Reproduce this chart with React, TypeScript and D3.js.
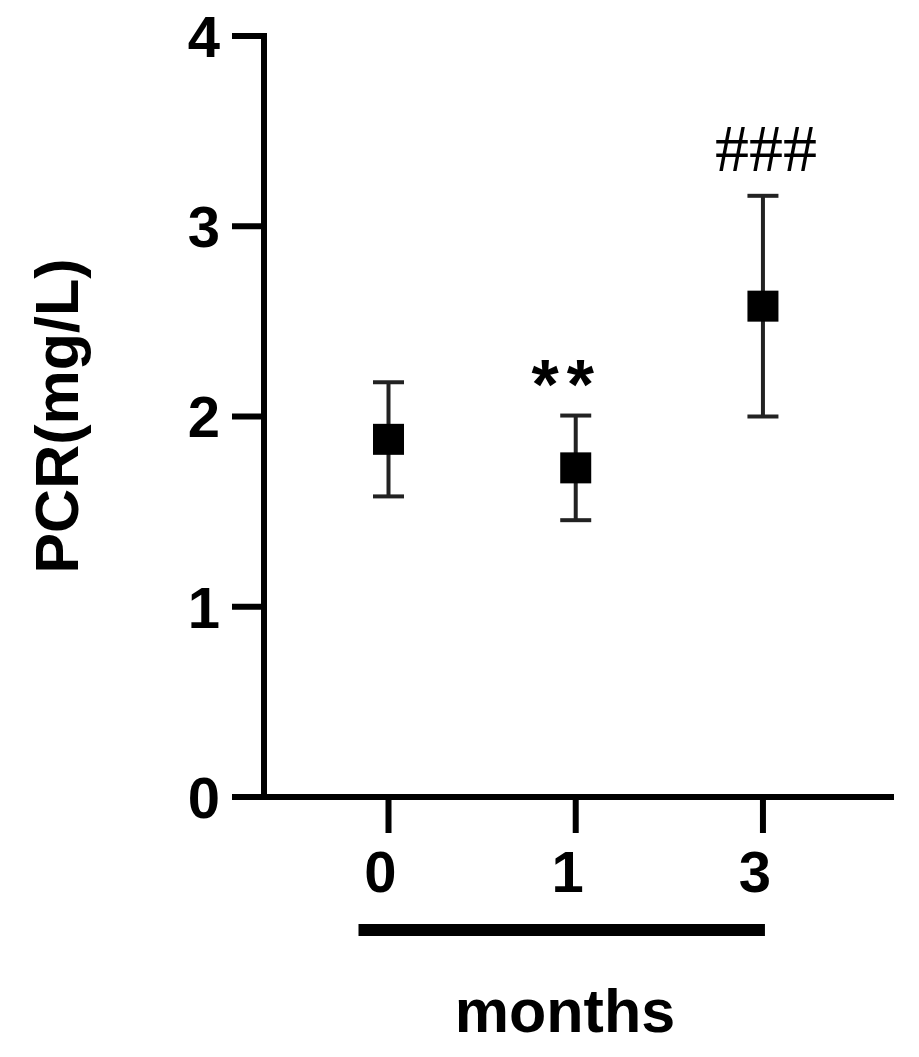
import React from "react";
import * as d3 from "d3";

const categories = ["0", "1", "3"];
const means = [1.88, 1.73, 2.58];
const errors = [0.3, 0.275, 0.58];
const yTicks = [0, 1, 2, 3, 4];
const annotations = ["", "**", "###"];
const yTitle = "PCR(mg/L)";
const xTitle = "months";

const W = 919;
const H = 1057;

export default function App() {
  const y = d3.scaleLinear().domain([0, 4]).range([797, 36]);
  const xi = d3.scaleLinear().domain([-0.665, 2.7]).range([264, 894]);
  const x = (c: string) => xi(categories.indexOf(c));
  const axisX = xi.range()[0];
  const axisW = 6;
  const sans = "'Liberation Sans', Arial, sans-serif";
  const serif = "'Liberation Serif', 'Times New Roman', serif";
  const sq = 31;
  const cap = 31;

  return (
    <svg width={W} height={H} style={{ position: "absolute", left: 0, top: 0, background: "#fff" }}>
      {/* y axis */}
      <line x1={axisX} x2={axisX} y1={y(4) - axisW / 2} y2={y(0)} stroke="#000" strokeWidth={axisW} />
      {yTicks.map((t) => (
        <g key={t}>
          <line x1={232} x2={axisX} y1={y(t)} y2={y(t)} stroke="#000" strokeWidth={axisW} />
          <text
            x={220}
            y={y(t)}
            dy="0.36em"
            textAnchor="end"
            fontFamily={sans}
            fontWeight="bold"
            fontSize={58}
            fill="#000"
          >
            {t}
          </text>
        </g>
      ))}
      {/* x axis */}
      <line x1={232} x2={xi.range()[1]} y1={y(0)} y2={y(0)} stroke="#000" strokeWidth={axisW} />
      {categories.map((c) => (
        <g key={c}>
          <line x1={x(c)} x2={x(c)} y1={y(0)} y2={y(0) + 36} stroke="#000" strokeWidth={axisW} />
          <text
            x={x(c) - 8}
            y={892}
            textAnchor="middle"
            fontFamily={sans}
            fontWeight="bold"
            fontSize={58}
            fill="#000"
          >
            {c}
          </text>
        </g>
      ))}
      {/* bracket under x labels */}
      <line
        x1={x(categories[0]) - 30}
        x2={x(categories[categories.length - 1]) + 2}
        y1={930}
        y2={930}
        stroke="#000"
        strokeWidth={12}
      />
      {/* error bars and points */}
      {categories.map((c, i) => {
        const cx = x(c);
        const hi = y(means[i] + errors[i]);
        const lo = y(means[i] - errors[i]);
        return (
          <g key={"p" + c}>
            <line x1={cx} x2={cx} y1={hi} y2={lo} stroke="#222" strokeWidth={4} />
            <line x1={cx - cap / 2} x2={cx + cap / 2} y1={hi} y2={hi} stroke="#222" strokeWidth={4} />
            <line x1={cx - cap / 2} x2={cx + cap / 2} y1={lo} y2={lo} stroke="#222" strokeWidth={4} />
            <rect x={cx - sq / 2} y={y(means[i]) - sq / 2} width={sq} height={sq} fill="#000" />
          </g>
        );
      })}
      {/* annotations */}
      {categories.map((c, i) => {
        const a = annotations[i];
        if (!a) return null;
        const top = y(means[i] + errors[i]);
        if (a.startsWith("*")) {
          return (
            <text
              key={"a" + c}
              x={x(c) - 9}
              y={top - 7}
              textAnchor="middle"
              fontFamily={sans}
              fontWeight="bold"
              fontSize={70}
              letterSpacing={8}
              fill="#000"
            >
              {a}
            </text>
          );
        }
        return (
          <text
            key={"a" + c}
            x={x(c) + 3}
            y={top - 25}
            textAnchor="middle"
            fontFamily={serif}
            fontSize={68}
            fill="#000"
          >
            {a}
          </text>
        );
      })}
      {/* titles */}
      <text
        transform={`translate(78, 416) rotate(-90)`}
        textAnchor="middle"
        fontFamily={sans}
        fontWeight="bold"
        fontSize={61}
        fill="#000"
      >
        {yTitle}
      </text>
      <text x={565} y={1032} textAnchor="middle" fontFamily={sans} fontWeight="bold" fontSize={61} fill="#000">
        {xTitle}
      </text>
    </svg>
  );
}
